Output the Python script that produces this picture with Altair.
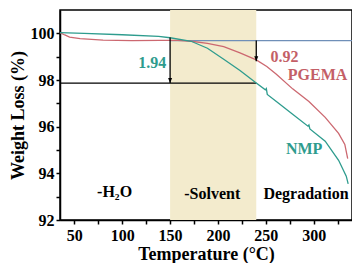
import altair as alt
import pandas as pd

# ---- data ----
nmp_t = [35, 60, 100, 138, 150, 172, 189, 206, 223, 240, 249.5, 250.5, 251.5, 261, 278, 294, 295, 296, 312, 326, 334, 336]
nmp_w = [100.03, 100.00, 99.94, 99.87, 99.81, 99.66, 99.36, 98.89, 98.41, 97.87, 97.58, 97.63, 97.38, 97.08, 96.53, 96.02, 96.07, 95.90, 95.38, 94.56, 93.88, 93.55]

pg_t = [35, 40, 45, 56, 80, 110, 140, 158, 172, 189, 206, 223, 240, 251, 261, 278, 295, 312, 326, 332.5, 335.5]
pg_w = [100.03, 99.93, 99.84, 99.77, 99.71, 99.69, 99.70, 99.70, 99.66, 99.57, 99.43, 99.16, 98.86, 98.58, 98.25, 97.62, 97.08, 96.40, 95.71, 95.24, 94.63]

region_start = [150]
region_end = [240]

ref_level = [99.69]        # blue baseline
nmp_level = [97.87]        # black horizontal line
arrow_t = [150, 240]
arrow_top = [99.82, 99.69]
arrow_tip = [97.87, 98.80]

labels_text = ["1.94", "0.92", "PGEMA", "NMP", "-H\u2082O", "-Solvent", "Degradation"]
labels_t = [146, 255, 304, 290, 92, 194, 292]
labels_w = [98.72, 99.0, 98.23, 95.05, 93.2, 93.12, 93.12]

X_DOMAIN = [35, 340]
Y_DOMAIN = [92, 101]
FONT = "Liberation Serif"
TEAL = "#2E9C8E"
RED = "#CC6870"
BLUE = "#6F8FB8"
SHADE = "#F3EBCD"

xs = alt.Scale(domain=X_DOMAIN, nice=False, zero=False)
ys = alt.Scale(domain=Y_DOMAIN, nice=False, zero=False)

x_axis = alt.Axis(
    title="Temperature (\u00b0C)",
    values=list(range(50, 326, 25)),
    labelExpr="datum.value % 50 == 0 ? datum.label : ''",
    grid=False, tickSize=4, labelPadding=3, labelOverlap=False,
    titleY=39, titleBaseline="alphabetic",
)
y_axis = alt.Axis(
    title="Weight Loss (%)",
    values=list(range(92, 101, 1)),
    labelExpr="datum.value % 2 == 0 ? datum.label : ''",
    grid=False, tickSize=4, labelPadding=2, labelOverlap=False,
    titleX=-33,
)


def X(f="t"):
    return alt.X(f"{f}:Q", scale=xs, axis=x_axis)


def Y(f="w"):
    return alt.Y(f"{f}:Q", scale=ys, axis=y_axis)


shade = alt.Chart(pd.DataFrame({"t": region_start, "t2": region_end,
                                "w": [Y_DOMAIN[0]], "w2": [Y_DOMAIN[1]]})).mark_rect(
    color=SHADE).encode(x=X(), x2="t2:Q", y=Y(), y2="w2:Q")

black_line = alt.Chart(pd.DataFrame({"t": [X_DOMAIN[0]], "t2": region_end, "w": nmp_level})).mark_rule(
    color="black", strokeWidth=1.3).encode(x=X(), x2="t2:Q", y=Y())

blue_line = alt.Chart(pd.DataFrame({"t": region_start, "t2": [X_DOMAIN[1]], "w": ref_level})).mark_rule(
    color=BLUE, strokeWidth=1.3).encode(x=X(), x2="t2:Q", y=Y())

curves = pd.concat([
    pd.DataFrame({"t": pg_t, "w": pg_w, "s": "PGEMA", "o": range(len(pg_t))}),
    pd.DataFrame({"t": nmp_t, "w": nmp_w, "s": "NMP", "o": range(len(nmp_t))}),
])
lines = alt.Chart(curves).mark_line(strokeWidth=1.3).encode(
    x=X(), y=Y(), order="o:Q",
    color=alt.Color("s:N", scale=alt.Scale(domain=["PGEMA", "NMP"], range=[RED, TEAL]), legend=None),
)

arrows_df = pd.DataFrame({"t": arrow_t, "w": arrow_top, "w2": arrow_tip})
arrow_shaft = alt.Chart(arrows_df).mark_rule(color="black", strokeWidth=1.3).encode(
    x=X(), y=Y(), y2="w2:Q")
arrow_head = alt.Chart(arrows_df).mark_point(
    shape="M-1,-2.5L1,-2.5L0,0Z", size=16, filled=True, color="black", opacity=1, strokeWidth=0
).encode(x=X(), y=Y("w2"))

lab = pd.DataFrame({"t": labels_t, "w": labels_w, "label": labels_text})
text_specs = [
    (0, TEAL, "right"),
    (1, "#C45F67", "left"),
    (2, "#C45F67", "center"),
    (3, TEAL, "center"),
    (4, "black", "center"),
    (5, "black", "center"),
    (6, "black", "center"),
]
texts = []
for i, col, al in text_specs:
    texts.append(
        alt.Chart(lab.iloc[[i]]).mark_text(
            font=FONT, fontWeight="bold", fontSize=16, color=col, align=al, baseline="middle"
        ).encode(x=X(), y=Y(), text="label:N")
    )

chart = alt.layer(shade, black_line, blue_line, lines, arrow_shaft, arrow_head, *texts).properties(
    width=292, height=210,
    autosize=alt.AutoSizeParams(type="none"),
    padding={"left": 52, "top": 2, "right": 0, "bottom": 43},
    background="white",
).configure_view(
    stroke="black", strokeWidth=1.5
).configure_axis(
    domainColor="black", domainWidth=1.5, tickColor="black", tickWidth=1.5,
    labelFont=FONT, labelFontWeight="bold", labelFontSize=16, labelColor="black",
    titleFont=FONT, titleFontWeight="bold", titleFontSize=18, titleColor="black",
)

chart.save("out.html", embed_options={"renderer": "svg", "actions": False})
